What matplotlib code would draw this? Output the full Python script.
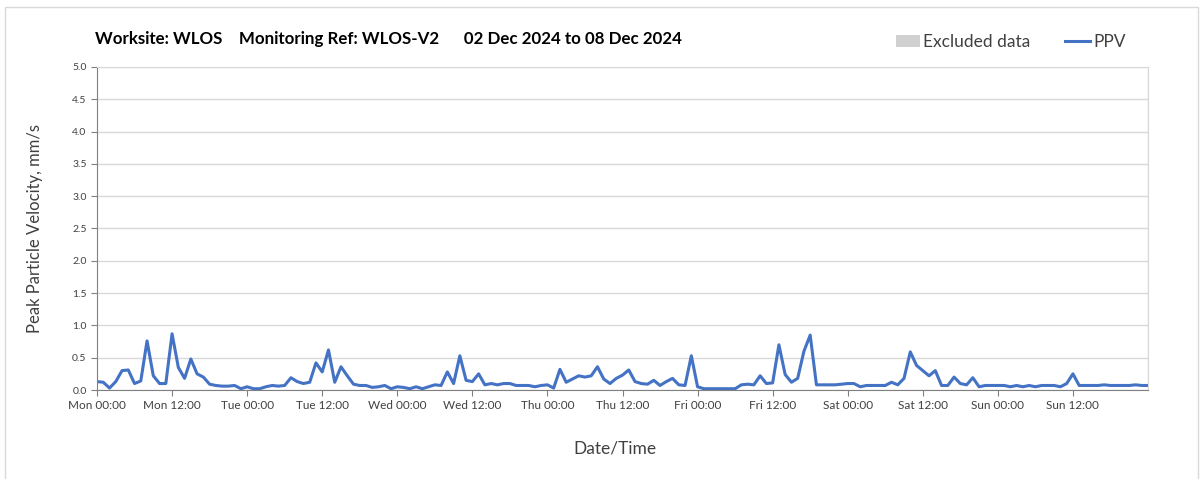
import numpy as np
import matplotlib
matplotlib.use("Agg")
import matplotlib.pyplot as plt
from matplotlib.patches import Patch, Rectangle
from matplotlib.lines import Line2D

plt.rcParams["font.family"] = ["Lato", "DejaVu Sans"]

# hourly PPV readings, Mon 00:00 -> Sun 23:00, plus the closing Mon 00:00 reading
mon = [0.13, 0.12, 0.03, 0.13, 0.30, 0.31, 0.10, 0.14, 0.76, 0.22, 0.10, 0.10,
       0.87, 0.35, 0.18, 0.48, 0.25, 0.20, 0.09, 0.07, 0.06, 0.06, 0.07, 0.02]
tue = [0.05, 0.02, 0.02, 0.05, 0.07, 0.06, 0.07, 0.19, 0.13, 0.10, 0.12, 0.42,
       0.28, 0.62, 0.12, 0.36, 0.22, 0.09, 0.07, 0.07, 0.04, 0.05, 0.07, 0.02]
wed = [0.05, 0.04, 0.02, 0.05, 0.02, 0.05, 0.08, 0.07, 0.28, 0.10, 0.53, 0.15,
       0.13, 0.25, 0.08, 0.10, 0.08, 0.10, 0.10, 0.07, 0.07, 0.07, 0.05, 0.07]
thu = [0.08, 0.03, 0.32, 0.12, 0.17, 0.22, 0.20, 0.22, 0.36, 0.17, 0.10, 0.18,
       0.23, 0.31, 0.13, 0.10, 0.09, 0.15, 0.07, 0.13, 0.18, 0.08, 0.07, 0.53]
fri = [0.05, 0.02, 0.02, 0.02, 0.02, 0.02, 0.02, 0.08, 0.09, 0.08, 0.22, 0.10,
       0.11, 0.70, 0.24, 0.12, 0.18, 0.60, 0.85, 0.08, 0.08, 0.08, 0.08, 0.09]
sat = [0.10, 0.10, 0.05, 0.07, 0.07, 0.07, 0.07, 0.12, 0.08, 0.18, 0.59, 0.38,
       0.30, 0.22, 0.30, 0.07, 0.07, 0.20, 0.10, 0.08, 0.19, 0.05, 0.07, 0.07]
sun = [0.07, 0.07, 0.05, 0.07, 0.05, 0.07, 0.05, 0.07, 0.07, 0.07, 0.05, 0.10,
       0.25, 0.07, 0.07, 0.07, 0.07, 0.08, 0.07, 0.07, 0.07, 0.07, 0.08, 0.07]
last = [0.07]

ppv = mon + tue + wed + thu + fri + sat + sun + last
hours = np.arange(len(ppv))

tick_labels = ["Mon 00:00", "Mon 12:00", "Tue 00:00", "Tue 12:00", "Wed 00:00", "Wed 12:00",
               "Thu 00:00", "Thu 12:00", "Fri 00:00", "Fri 12:00", "Sat 00:00", "Sat 12:00",
               "Sun 00:00", "Sun 12:00"]
y_ticks = np.arange(0, 5.01, 0.5)

fig = plt.figure(figsize=(12.03, 4.79), dpi=100)
fig.patches.append(Rectangle((5 / 1203, -0.05), 1193 / 1203, 1.05 - 7 / 479,
                             transform=fig.transFigure, fill=False,
                             edgecolor="#d9d9d9", linewidth=1))

ax = fig.add_axes([97 / 1203, 1 - 390 / 479, 1051 / 1203, 323 / 479])
ax.plot(hours, ppv, color="#4472c4", linewidth=2.2)

ax.set_xlim(0, 168)
ax.set_ylim(0, 5.0)
ax.set_xticks(np.arange(0, 168, 12))
ax.set_xticklabels(tick_labels, fontsize=8.5, color="#404040")
ax.set_xticks(np.arange(0, 169, 24), minor=True)
ax.set_yticks(y_ticks)
ax.set_yticklabels(["%.1f" % v for v in y_ticks], fontsize=7.5, color="#404040")
ax.tick_params(axis="both", which="major", length=4, color="#808080", direction="out")
ax.tick_params(axis="x", which="minor", length=0)

ax.grid(True, axis="y", color="#d9d9d9", linewidth=1)
ax.grid(True, axis="x", which="minor", color="#d9d9d9", linewidth=1)
ax.set_axisbelow(True)
for side in ["top", "right"]:
    ax.spines[side].set_color("#d9d9d9")
for side in ["left", "bottom"]:
    ax.spines[side].set_color("#808080")

ax.set_ylabel("Peak Particle Velocity, mm/s", fontsize=12, color="#404040")
ax.yaxis.set_label_coords(-0.051, 0.5)
ax.set_xlabel("Date/Time", fontsize=12.5, color="#404040")
ax.xaxis.set_label_coords(0.493, -0.155)

fig.text(95 / 1203, 1 - 39 / 479,
         "Worksite: WLOS    Monitoring Ref: WLOS-V2      02 Dec 2024 to 08 Dec 2024",
         fontsize=12.2, fontweight="bold", color="#000000", va="center")

handles = [Patch(facecolor="#d0d0d0", edgecolor="none", label="Excluded data"),
           Line2D([0], [0], color="#4472c4", linewidth=2.2, label="PPV")]
fig.legend(handles=handles, loc="center left", bbox_to_anchor=(880 / 1203, 1 - 42 / 479),
           ncol=2, frameon=False, fontsize=12.5, handlelength=1.4, handletextpad=0.2,
           columnspacing=2.0, labelcolor="#404040")

fig.savefig("out.png", dpi=100)
